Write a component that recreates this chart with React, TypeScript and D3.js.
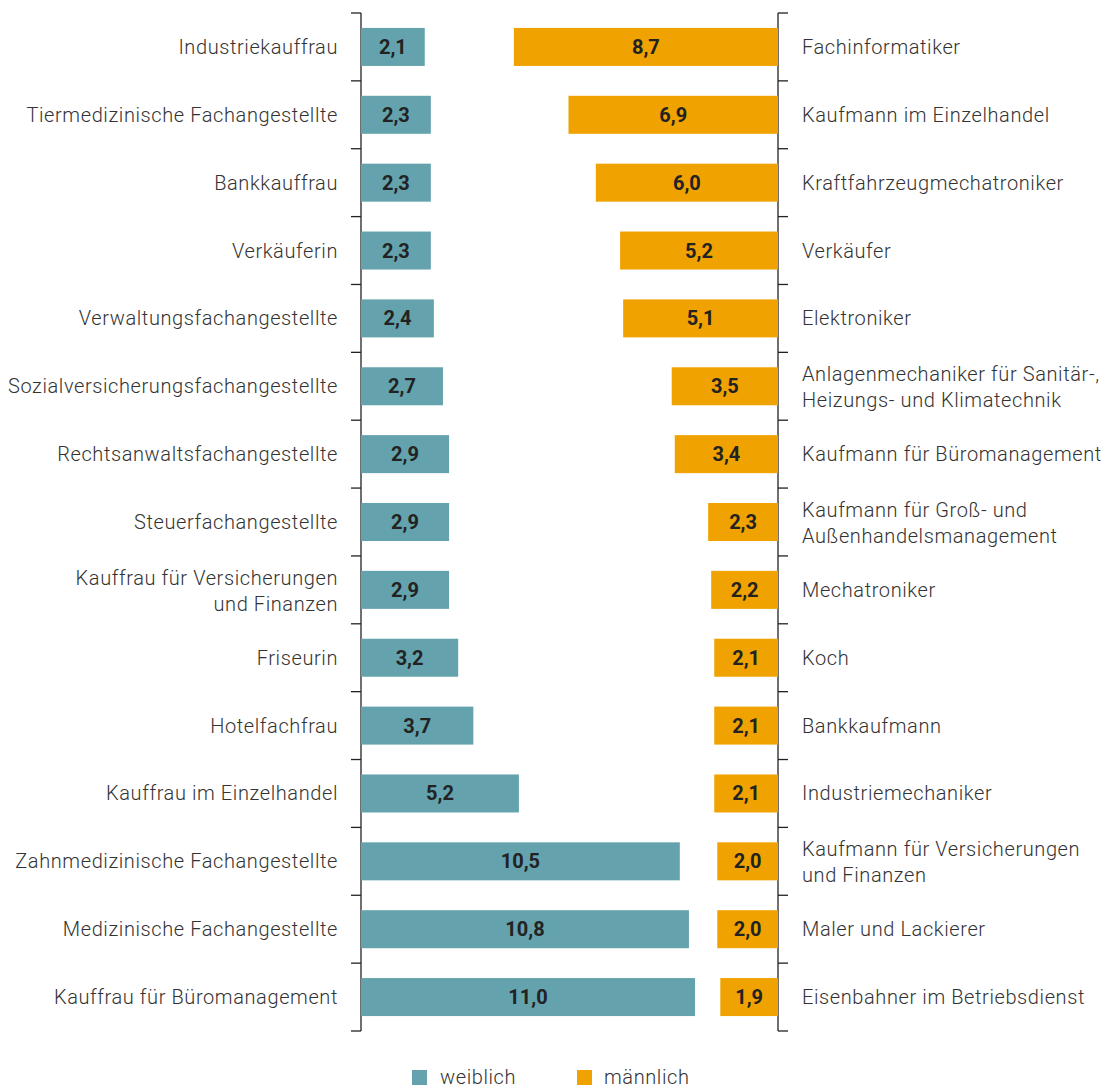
import React from "react";
import * as d3 from "d3";

const femaleJobs = [
  "Industriekauffrau",
  "Tiermedizinische Fachangestellte",
  "Bankkauffrau",
  "Verkäuferin",
  "Verwaltungsfachangestellte",
  "Sozialversicherungsfachangestellte",
  "Rechtsanwaltsfachangestellte",
  "Steuerfachangestellte",
  "Kauffrau für Versicherungen\nund Finanzen",
  "Friseurin",
  "Hotelfachfrau",
  "Kauffrau im Einzelhandel",
  "Zahnmedizinische Fachangestellte",
  "Medizinische Fachangestellte",
  "Kauffrau für Büromanagement",
];
const femaleValues = [2.1, 2.3, 2.3, 2.3, 2.4, 2.7, 2.9, 2.9, 2.9, 3.2, 3.7, 5.2, 10.5, 10.8, 11.0];

const maleJobs = [
  "Fachinformatiker",
  "Kaufmann im Einzelhandel",
  "Kraftfahrzeugmechatroniker",
  "Verkäufer",
  "Elektroniker",
  "Anlagenmechaniker für Sanitär-,\nHeizungs- und Klimatechnik",
  "Kaufmann für Büromanagement",
  "Kaufmann für Groß- und\nAußenhandelsmanagement",
  "Mechatroniker",
  "Koch",
  "Bankkaufmann",
  "Industriemechaniker",
  "Kaufmann für Versicherungen\nund Finanzen",
  "Maler und Lackierer",
  "Eisenbahner im Betriebsdienst",
];
const maleValues = [8.7, 6.9, 6.0, 5.2, 5.1, 3.5, 3.4, 2.3, 2.2, 2.1, 2.1, 2.1, 2.0, 2.0, 1.9];

const legendLabels = ["weiblich", "männlich"];

const TEAL = "#64a3ad";
const ORANGE = "#f0a200";
const FONT = "Roboto, 'Noto Sans', sans-serif";

export default function App() {
  const width = 1113;
  const height = 1088;
  const leftAxisX = 361;
  const rightAxisX = 778;
  const top = 13;
  const bottom = 1031;

  const rows = d3.range(femaleValues.length);
  const y = d3.scaleBand<number>().domain(rows).range([top, bottom]).paddingInner(0.44).paddingOuter(0.22);
  const x = d3.scaleLinear().domain([0, 11]).range([0, 334]);
  const fmt = (v: number) => d3.format(".1f")(v).replace(".", ",");
  const boundaries = d3.range(rows.length + 1).map((i) => top + i * ((bottom - top) / rows.length));

  const labelLines = (txt: string, xPos: number, yc: number, anchor: string) => {
    const lines = txt.split("\n");
    const lh = 26;
    const start = yc - ((lines.length - 1) * lh) / 2 + (lines.length > 1 ? 1 : 0);
    return (
      <text x={xPos} textAnchor={anchor} fontFamily={FONT} fontWeight={300} fontSize={20} letterSpacing={0.6} fill="#333">
        {lines.map((l, i) => (
          <tspan key={i} x={xPos} y={start + i * lh} dy="0.35em">
            {l}
          </tspan>
        ))}
      </text>
    );
  };

  return (
    <svg width={width} height={height} style={{ display: "block", position: "absolute", left: 0, top: 0 }}>
      <rect width={width} height={height} fill="#fff" />
      <line x1={leftAxisX} x2={leftAxisX} y1={top} y2={bottom} stroke="#222" strokeWidth={1.3} />
      <line x1={rightAxisX} x2={rightAxisX} y1={top} y2={bottom} stroke="#222" strokeWidth={1.3} />
      {boundaries.map((b, i) => (
        <g key={i}>
          <line x1={leftAxisX - 10} x2={leftAxisX} y1={b} y2={b} stroke="#222" strokeWidth={1.3} />
          <line x1={rightAxisX} x2={rightAxisX + 10} y1={b} y2={b} stroke="#222" strokeWidth={1.3} />
        </g>
      ))}
      {rows.map((i) => {
        const y0 = y(i)!;
        const bh = y.bandwidth();
        const yc = y0 + bh / 2;
        const fw = x(femaleValues[i]);
        const mw = x(maleValues[i]);
        return (
          <g key={i}>
            <rect x={leftAxisX} y={y0} width={fw} height={bh} fill={TEAL} />
            <text x={leftAxisX + fw / 2} y={yc} dy="0.35em" textAnchor="middle" fontFamily={FONT} fontWeight={700} fontSize={20} fill="#222">
              {fmt(femaleValues[i])}
            </text>
            <rect x={rightAxisX - mw} y={y0} width={mw} height={bh} fill={ORANGE} />
            <text x={rightAxisX - mw / 2} y={yc} dy="0.35em" textAnchor="middle" fontFamily={FONT} fontWeight={700} fontSize={20} fill="#222">
              {fmt(maleValues[i])}
            </text>
            {labelLines(femaleJobs[i], leftAxisX - 23, yc, "end")}
            {labelLines(maleJobs[i], rightAxisX + 24, yc, "start")}
          </g>
        );
      })}
      <rect x={412} y={1070} width={15} height={15} fill={TEAL} />
      <text x={440} y={1084} fontFamily={FONT} fontWeight={300} fontSize={20} letterSpacing={0.6} fill="#333">
        {legendLabels[0]}
      </text>
      <rect x={577} y={1070} width={15} height={15} fill={ORANGE} />
      <text x={604} y={1084} fontFamily={FONT} fontWeight={300} fontSize={20} letterSpacing={0.6} fill="#333">
        {legendLabels[1]}
      </text>
    </svg>
  );
}
